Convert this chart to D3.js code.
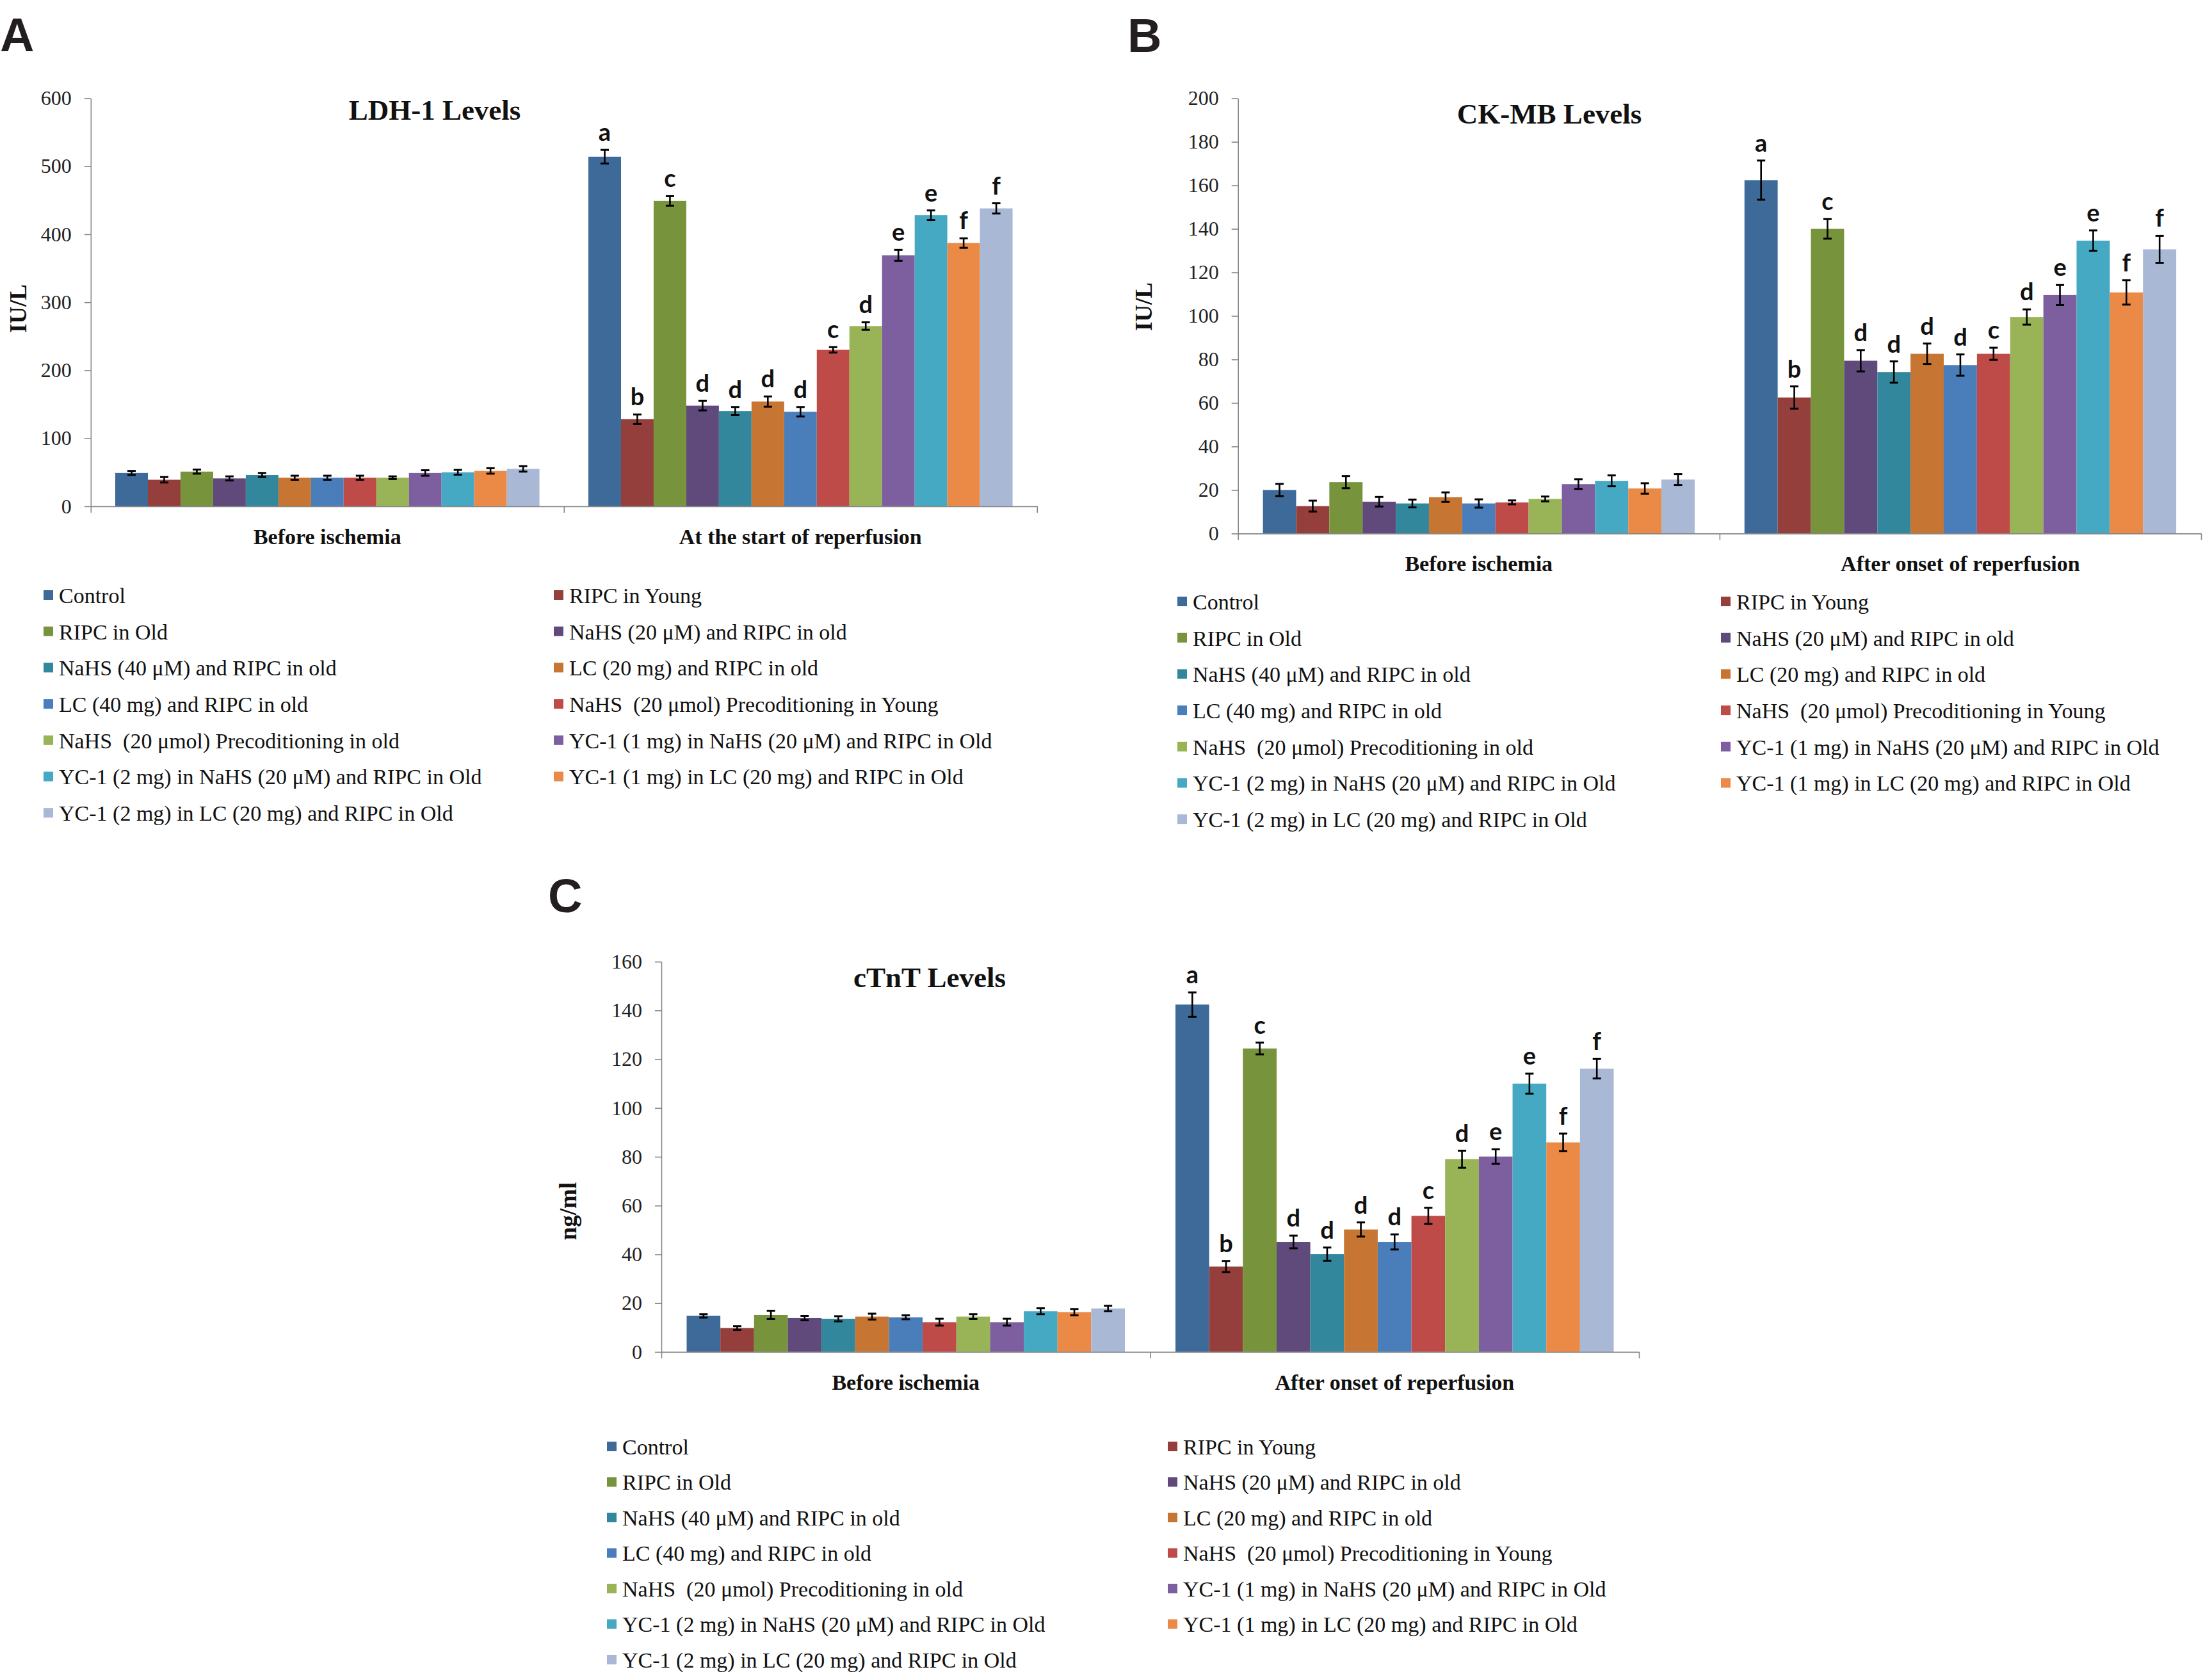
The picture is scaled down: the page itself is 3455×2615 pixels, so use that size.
<!DOCTYPE html>
<html><head><meta charset="utf-8">
<script src="https://cdn.jsdelivr.net/npm/d3@7"></script>
<style>html,body{margin:0;padding:0;background:#fff;} svg{display:block;}</style>
</head><body>
<svg id="fig" width="3455" height="2615"></svg>
<script>
// ---------- DATA ----------
const groups = [
  "Control",
  "RIPC in Young",
  "RIPC in Old",
  "NaHS (20 μM) and RIPC in old",
  "NaHS (40 μM) and RIPC in old",
  "LC (20 mg) and RIPC in old",
  "LC (40 mg) and RIPC in old",
  "NaHS  (20 μmol) Precoditioning in Young",
  "NaHS  (20 μmol) Precoditioning in old",
  "YC-1 (1 mg) in NaHS (20 μM) and RIPC in Old",
  "YC-1 (2 mg) in NaHS (20 μM) and RIPC in Old",
  "YC-1 (1 mg) in LC (20 mg) and RIPC in Old",
  "YC-1 (2 mg) in LC (20 mg) and RIPC in Old"
];
const groupColors = ["#3D6A99","#943F3B","#77933C","#604A7B","#33879D","#C77533","#4A7EBB",
                     "#BE4B48","#98B456","#7D5FA0","#46A9C4","#EB8A46","#A9B8D4"];

const categoriesA = ["Before ischemia", "At the start of reperfusion"];
const categoriesBC = ["Before ischemia", "After onset of reperfusion"];

// LDH-1 (IU/L)
const ldhBefore    = [49, 39, 51, 41, 46, 42, 42, 42, 42, 49, 50, 52, 55];
const ldhBeforeErr = [3, 4, 3, 3, 3, 3, 3, 3, 2, 4, 3.5, 4, 4];
const ldhAfter     = [514, 128, 449, 148, 140, 154, 139, 230, 265, 369, 428, 387, 438];
const ldhAfterErr  = [10, 7, 7, 7, 6, 7.5, 7, 4, 5.5, 8, 7, 7, 7.5];
const ldhLetters   = ["a","b","c","d","d","d","d","c","d","e","e","f","f"];
const ldhTicks     = [0, 100, 200, 300, 400, 500, 600];

// CK-MB (IU/L)
const ckmbBefore    = [20, 12.6, 23.6, 14.6, 13.8, 16.7, 13.8, 14.3, 15.9, 22.7, 24.2, 20.7, 24.8];
const ckmbBeforeErr = [2.8, 2.5, 2.8, 2.2, 1.8, 2.2, 1.9, 0.9, 1.1, 2.2, 2.5, 2.4, 2.5];
const ckmbAfter     = [162.4, 62.5, 140, 79.4, 74.2, 82.6, 77.4, 82.6, 99.5, 109.6, 134.6, 110.8, 130.6];
const ckmbAfterErr  = [9, 5.1, 4.5, 4.9, 4.9, 4.7, 4.9, 2.8, 3.5, 4.6, 4.7, 5.6, 6.2];
const ckmbLetters   = ["a","b","c","d","d","d","d","c","d","e","e","f","f"];
const ckmbTicks     = [0, 20, 40, 60, 80, 100, 120, 140, 160, 180, 200];

// cTnT (ng/ml)
const ctntBefore    = [14.8, 9.8, 15.2, 13.9, 13.6, 14.5, 14.2, 12.2, 14.5, 12.2, 16.7, 16.3, 17.8];
const ctntBeforeErr = [0.7, 0.75, 1.7, 0.9, 1.05, 1.2, 0.8, 1.4, 1, 1.4, 1.2, 1.3, 1.1];
const ctntAfter     = [142.4, 35, 124.4, 45.1, 40.1, 50.2, 45.1, 55.8, 79, 80.1, 110, 85.9, 116.1];
const ctntAfterErr  = [5, 2.3, 2.4, 2.6, 2.7, 2.9, 3.1, 3.3, 3.5, 3, 4.1, 3.6, 4];
const ctntLetters   = ["a","b","c","d","d","d","d","c","d","e","e","f","f"];
const ctntTicks     = [0, 20, 40, 60, 80, 100, 120, 140, 160];

// ---------- DRAW ----------
const svg = d3.select("#fig");
svg.append("rect").attr("width",3455).attr("height",2615).attr("fill","#fff");
const SERIF = "'Liberation Serif','Times New Roman',serif";
const AXIS = "#878787";

function drawPanel(p) {
  const g = svg.append("g");
  const y = d3.scaleLinear().domain([0, d3.max(p.ticks)]).range([p.bottom, p.top]);
  const x0 = d3.scaleBand().domain(p.categories).range([p.left, p.right]);
  const x1 = d3.scaleBand().domain(groups).range([0, x0.bandwidth()]).paddingInner(0).paddingOuter(0.75);

  // panel letter
  g.append("text").attr("x", p.letterX).attr("y", p.letterY)
    .attr("font-family","'Liberation Sans',Arial,sans-serif").attr("font-weight","bold")
    .attr("font-size",74).attr("fill","#231f20").text(p.letter);

  // y axis
  const ya = g.append("g").attr("transform",`translate(${p.left},0)`)
    .call(d3.axisLeft(y).tickValues(p.ticks).tickSize(10).tickSizeOuter(0).tickPadding(20).tickFormat(d3.format("d")));
  ya.select(".domain").attr("stroke",AXIS).attr("stroke-width",1.6);
  ya.selectAll(".tick line").attr("stroke",AXIS).attr("stroke-width",1.6);
  ya.selectAll(".tick text").attr("font-family",SERIF).attr("font-size",32).attr("fill","#222");

  // bars
  p.categories.forEach((cat, ci) => {
    const vals = p.values[ci], errs = p.errors[ci];
    const cg = g.append("g");
    cg.selectAll("rect").data(groups).join("rect")
      .attr("x", d => x0(cat) + x1(d))
      .attr("width", x1.bandwidth())
      .attr("y", (d,i) => y(vals[i]))
      .attr("height", (d,i) => y(0) - y(vals[i]))
      .attr("fill", (d,i) => groupColors[i]);
    // error bars
    const eg = cg.selectAll("g.err").data(groups).join("g").attr("class","err");
    eg.append("line")
      .attr("x1", d => x0(cat)+x1(d)+x1.bandwidth()/2).attr("x2", d => x0(cat)+x1(d)+x1.bandwidth()/2)
      .attr("y1", (d,i) => y(vals[i]-errs[i])).attr("y2", (d,i) => y(vals[i]+errs[i]))
      .attr("stroke","#000").attr("stroke-width",2.6);
    [-1, 1].forEach(s => {
      eg.append("line")
        .attr("x1", d => x0(cat)+x1(d)+x1.bandwidth()/2-6.5).attr("x2", d => x0(cat)+x1(d)+x1.bandwidth()/2+6.5)
        .attr("y1", (d,i) => y(vals[i]+s*errs[i])).attr("y2", (d,i) => y(vals[i]+s*errs[i]))
        .attr("stroke","#000").attr("stroke-width",3);
    });
    if (ci === 1) {
      cg.selectAll("text.sig").data(groups).join("text").attr("class","sig")
        .attr("x", d => x0(cat)+x1(d)+x1.bandwidth()/2)
        .attr("y", (d,i) => y(vals[i]+errs[i]) - 14)
        .attr("text-anchor","middle")
        .attr("font-family","Lato,'Open Sans',sans-serif").attr("font-weight","bold")
        .attr("font-size",38).attr("fill","#111")
        .text((d,i) => p.letters[i]);
    }
  });

  // x axis with category boundary ticks
  const xb = d3.scaleLinear().domain([0, p.categories.length]).range([p.left, p.right]);
  const xa = g.append("g").attr("transform",`translate(0,${y(0)})`)
    .call(d3.axisBottom(xb).tickValues(d3.range(p.categories.length+1)).tickSize(10).tickSizeOuter(0).tickFormat(""));
  xa.select(".domain").attr("stroke",AXIS).attr("stroke-width",1.6);
  xa.selectAll(".tick line").attr("stroke",AXIS).attr("stroke-width",1.6);

  // category labels
  g.selectAll("text.cat").data(p.categories).join("text").attr("class","cat")
    .attr("x", d => x0(d) + x0.bandwidth()/2).attr("y", y(0) + 59)
    .attr("text-anchor","middle").attr("font-family",SERIF).attr("font-weight","bold")
    .attr("font-size",34).attr("fill","#111").text(d => d);

  // title
  g.append("text").attr("x", p.titleX).attr("y", p.titleY).attr("text-anchor","middle")
    .attr("font-family",SERIF).attr("font-weight","bold").attr("font-size",45).attr("fill","#111")
    .text(p.title);

  // y label
  g.append("text").attr("transform",`translate(${p.yLabelX},${p.yLabelY}) rotate(-90)`)
    .attr("text-anchor","middle").attr("dy","0.35em")
    .attr("font-family",SERIF).attr("font-weight","bold").attr("font-size",37).attr("fill","#111")
    .text(p.yLabel);

  // legend
  const lg = g.append("g");
  groups.forEach((name, i) => {
    const row = Math.floor(i/2), col = i % 2;
    const bx = col === 0 ? p.legX1 : p.legX2;
    const cy = p.legY0 + row * p.legDy;
    lg.append("rect").attr("x", bx).attr("y", cy - 8).attr("width", 15).attr("height", 15)
      .attr("fill", groupColors[i]);
    lg.append("text").attr("x", bx + 24).attr("y", cy).attr("dy","0.35em")
      .attr("font-family",SERIF).attr("font-size",34).attr("fill","#111")
      .style("white-space","pre").text(name);
  });
}

drawPanel({
  letter:"A", letterX:0, letterY:80,
  title:"LDH-1 Levels", titleX:679, titleY:187,
  yLabel:"IU/L", yLabelX:28, yLabelY:482,
  left:141.8, right:1619.8, top:153.4, bottom:790.9,
  ticks: ldhTicks, categories: categoriesA,
  values:[ldhBefore, ldhAfter], errors:[ldhBeforeErr, ldhAfterErr], letters: ldhLetters,
  legX1:68, legX2:865, legY0:930, legDy:56.7
});
drawPanel({
  letter:"B", letterX:1761, letterY:81,
  title:"CK-MB Levels", titleX:2420, titleY:193,
  yLabel:"IU/L", yLabelX:1786, yLabelY:479,
  left:1933.7, right:3438, top:153.6, bottom:833.4,
  ticks: ckmbTicks, categories: categoriesBC,
  values:[ckmbBefore, ckmbAfter], errors:[ckmbBeforeErr, ckmbAfterErr], letters: ckmbLetters,
  legX1:1839, legX2:2688, legY0:940, legDy:56.7
});
drawPanel({
  letter:"C", letterX:856, letterY:1425,
  title:"cTnT Levels", titleX:1452, titleY:1542,
  yLabel:"ng/ml", yLabelX:887, yLabelY:1892,
  left:1033, right:2560, top:1502.2, bottom:2111.9,
  ticks: ctntTicks, categories: categoriesBC,
  values:[ctntBefore, ctntAfter], errors:[ctntBeforeErr, ctntAfterErr], letters: ctntLetters,
  legX1:948, legX2:1824, legY0:2260, legDy:55.5
});
</script>
</body></html>
